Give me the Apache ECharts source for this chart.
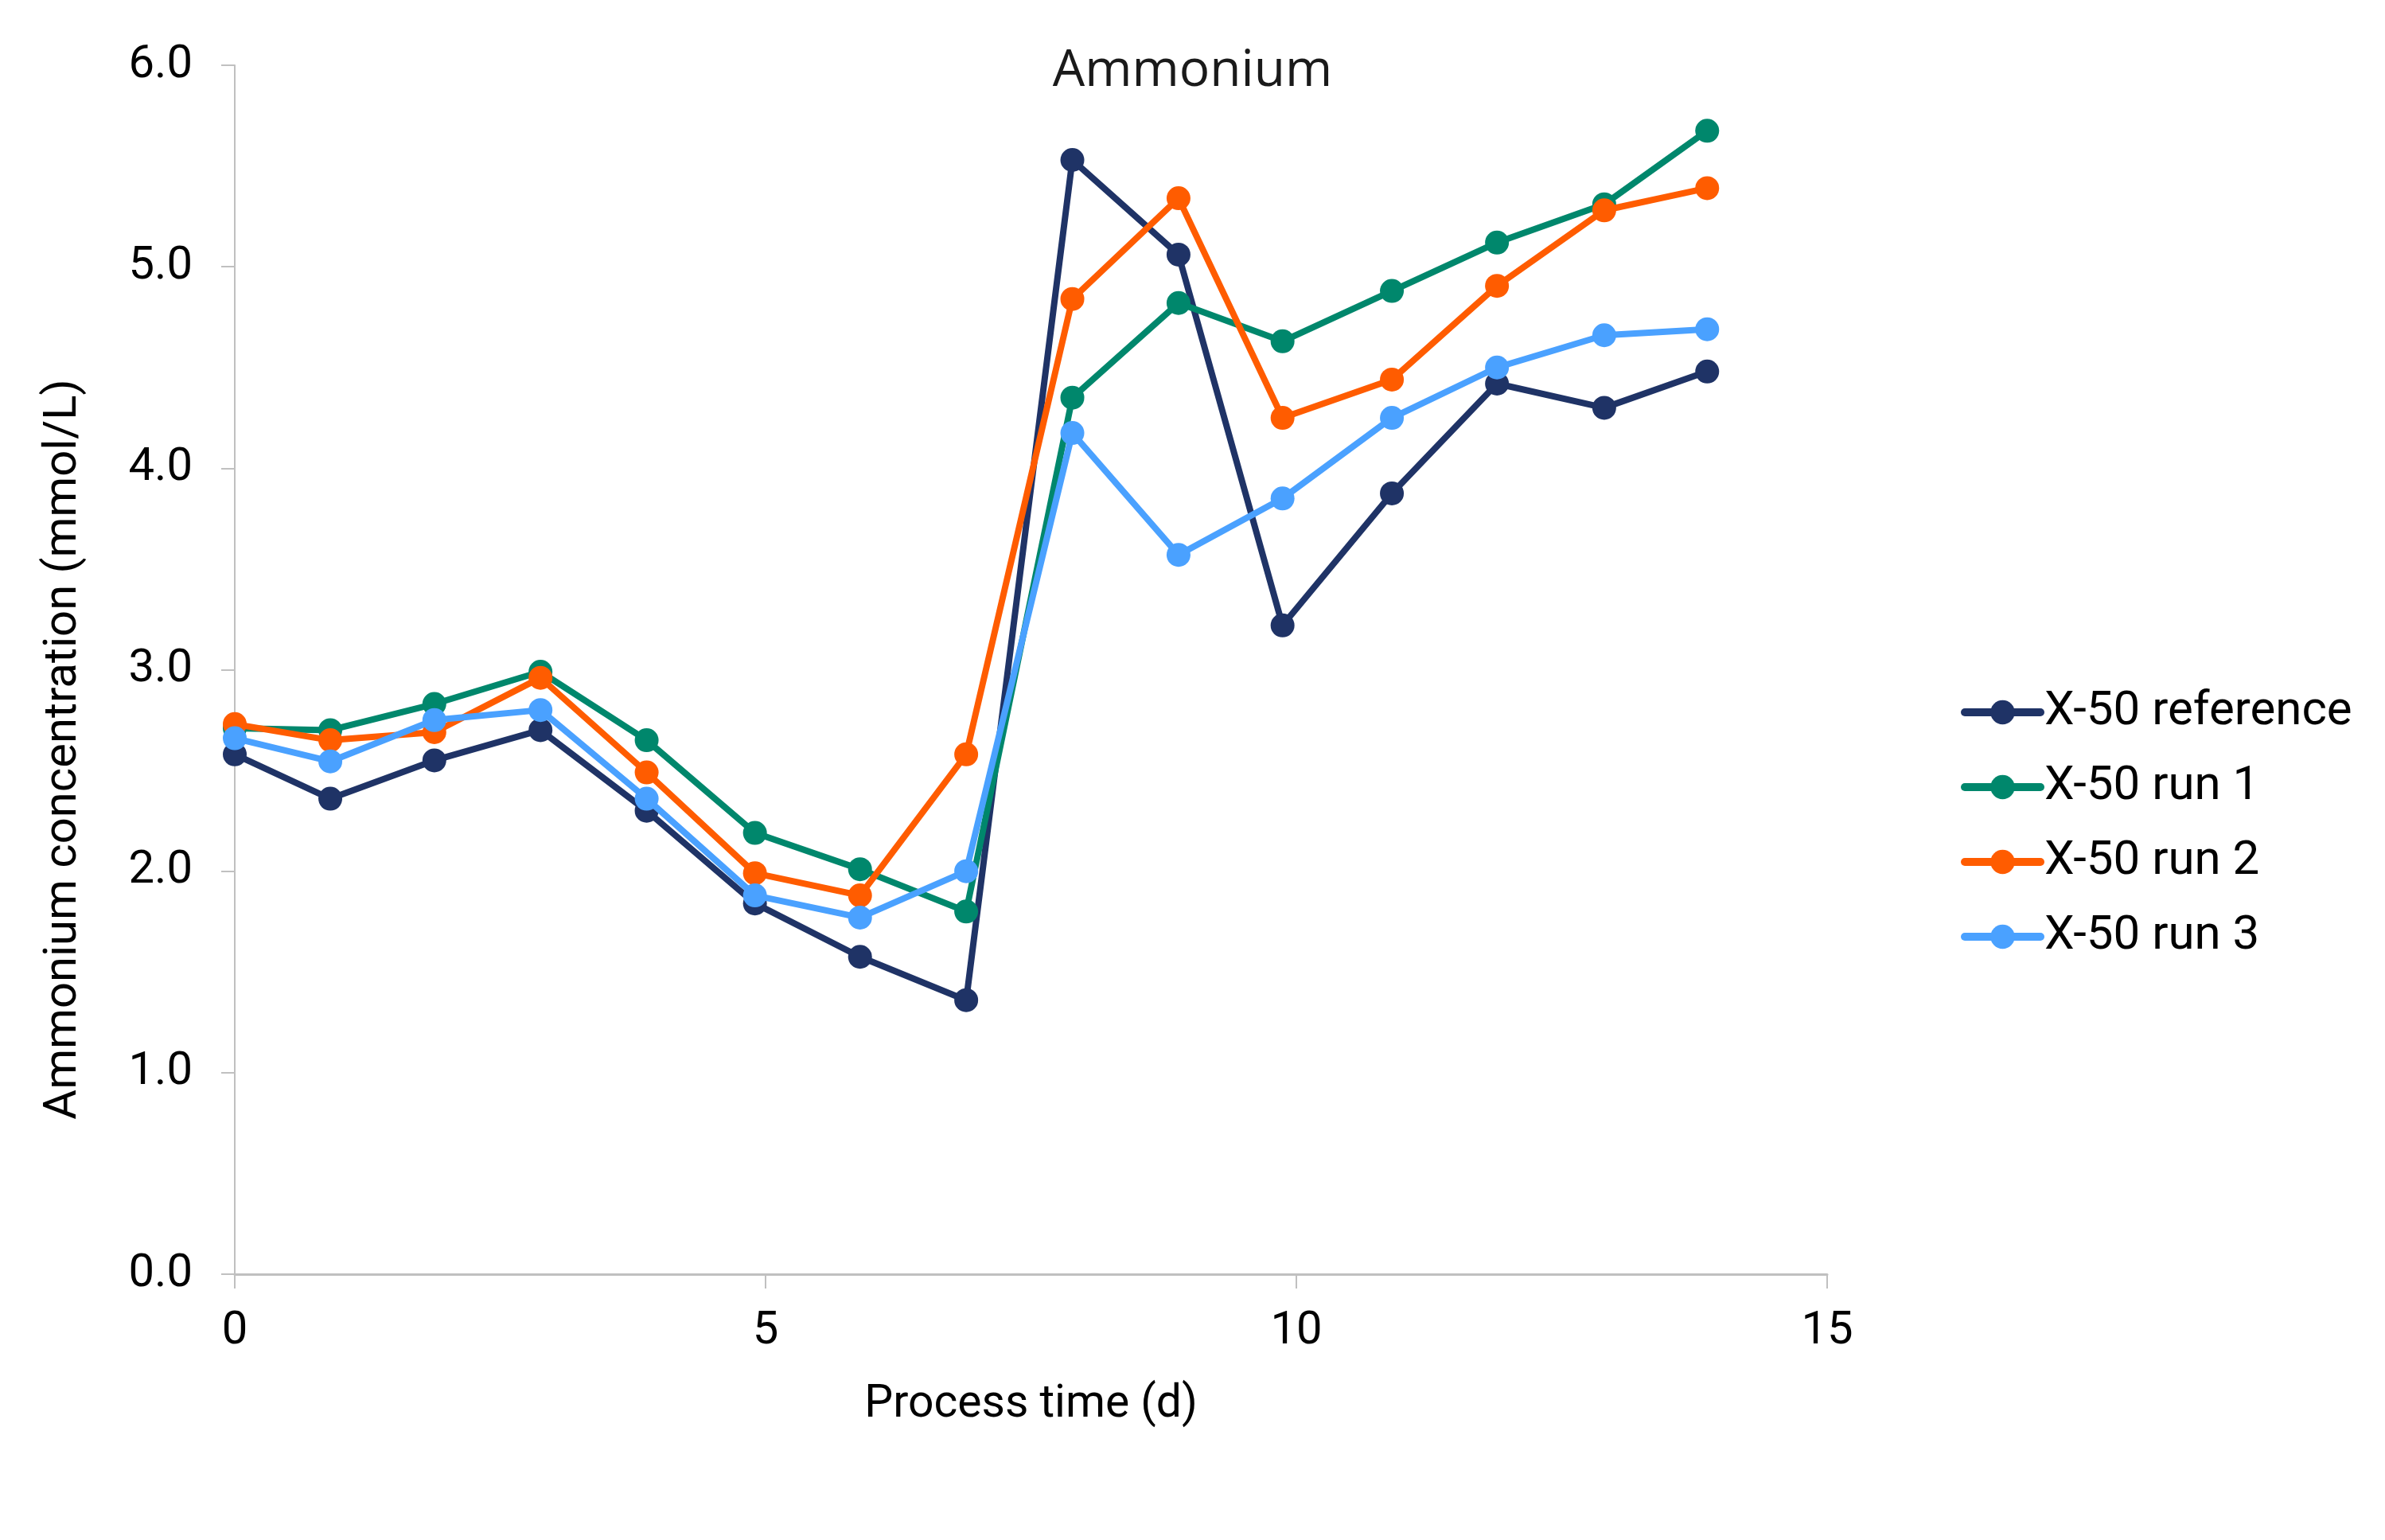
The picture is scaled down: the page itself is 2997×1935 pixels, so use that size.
<!DOCTYPE html>
<html>
<head>
<meta charset="utf-8">
<style>
  html, body { margin: 0; padding: 0; background: #ffffff; }
  #chart { width: 2997px; height: 1935px; }
</style>
<script src="https://cdn.jsdelivr.net/npm/echarts@6/dist/echarts.min.js"></script>
</head>
<body>
<div id="chart"></div>
<script>
const titleText = 'Ammonium';
const xAxisName = 'Process time (d)';
const yAxisName = 'Ammonium concentration (mmol/L)';
const seriesNames = ['X-50 reference', 'X-50 run 1', 'X-50 run 2', 'X-50 run 3'];
const seriesColors = ['#1f3366', '#00876c', '#ff5c00', '#4aa1ff'];

const processTime = [0, 0.9, 1.88, 2.88, 3.88, 4.9, 5.89, 6.89, 7.89, 8.89, 9.87, 10.9, 11.89, 12.9, 13.87];
const x50Reference = [2.58, 2.36, 2.55, 2.70, 2.30, 1.84, 1.575, 1.36, 5.53, 5.06, 3.22, 3.875, 4.42, 4.30, 4.48];
const x50Run1 = [2.71, 2.70, 2.83, 2.99, 2.65, 2.19, 2.01, 1.80, 4.35, 4.82, 4.63, 4.88, 5.12, 5.31, 5.675];
const x50Run2 = [2.73, 2.65, 2.69, 2.96, 2.49, 1.99, 1.88, 2.58, 4.84, 5.34, 4.25, 4.44, 4.905, 5.28, 5.39];
const x50Run3 = [2.66, 2.545, 2.75, 2.80, 2.36, 1.88, 1.77, 2.00, 4.175, 3.57, 3.85, 4.25, 4.50, 4.66, 4.69];

const allValues = [x50Reference, x50Run1, x50Run2, x50Run3];

const FONT = 'Roboto';
const chart = echarts.init(document.getElementById('chart'), null, { renderer: 'canvas' });

const series = allValues.map((vals, i) => ({
  name: seriesNames[i],
  type: 'line',
  data: processTime.map((t, k) => [t, vals[k]]),
  symbol: 'circle',
  symbolSize: 30,
  showAllSymbol: true,
  lineStyle: { width: 8, color: seriesColors[i] },
  itemStyle: { color: seriesColors[i] },
  emphasis: { disabled: true },
  z: 2 + i
}));

chart.setOption({
  animation: false,
  backgroundColor: '#ffffff',
  title: {
    text: titleText,
    left: 'center',
    top: 53,
    textStyle: { fontFamily: 'Open Sans', fontSize: 64, fontWeight: 'normal', color: '#1a1a1a' }
  },
  legend: {
    orient: 'vertical',
    left: 2459,
    top: 860,
    itemWidth: 95,
    itemHeight: 38,
    itemGap: 34,
    lineStyle: { width: 10, cap: 'round' },
    textStyle: { fontFamily: FONT, fontSize: 60, color: '#000000', lineHeight: 60 },
    data: seriesNames
  },
  grid: { left: 295, right: 701, top: 82, bottom: 334, containLabel: false },
  xAxis: {
    type: 'value',
    min: 0, max: 15, interval: 5,
    name: xAxisName,
    nameLocation: 'middle',
    nameGap: 136,
    nameTextStyle: { fontFamily: FONT, fontSize: 57, color: '#000000' },
    axisLine: { show: true, lineStyle: { color: '#c0c0c0', width: 3 } },
    axisTick: { show: true, inside: false, length: 18, lineStyle: { color: '#c0c0c0', width: 2 } },
    axisLabel: { fontFamily: FONT, fontSize: 58, color: '#000000', margin: 43 },
    splitLine: { show: false }
  },
  yAxis: {
    type: 'value',
    min: 0, max: 6, interval: 1,
    name: yAxisName,
    nameLocation: 'middle',
    nameGap: 186,
    nameRotate: 90,
    nameTextStyle: { fontFamily: FONT, fontSize: 58, color: '#000000', padding: [0, 200, 0, 0] },
    axisLine: { show: true, lineStyle: { color: '#c0c0c0', width: 2 } },
    axisTick: { show: true, inside: false, length: 17, lineStyle: { color: '#c0c0c0', width: 2 } },
    axisLabel: { fontFamily: FONT, fontSize: 58, color: '#000000', margin: 53, formatter: v => v.toFixed(1) },
    splitLine: { show: false }
  },
  series: series
});
</script>
</body>
</html>
